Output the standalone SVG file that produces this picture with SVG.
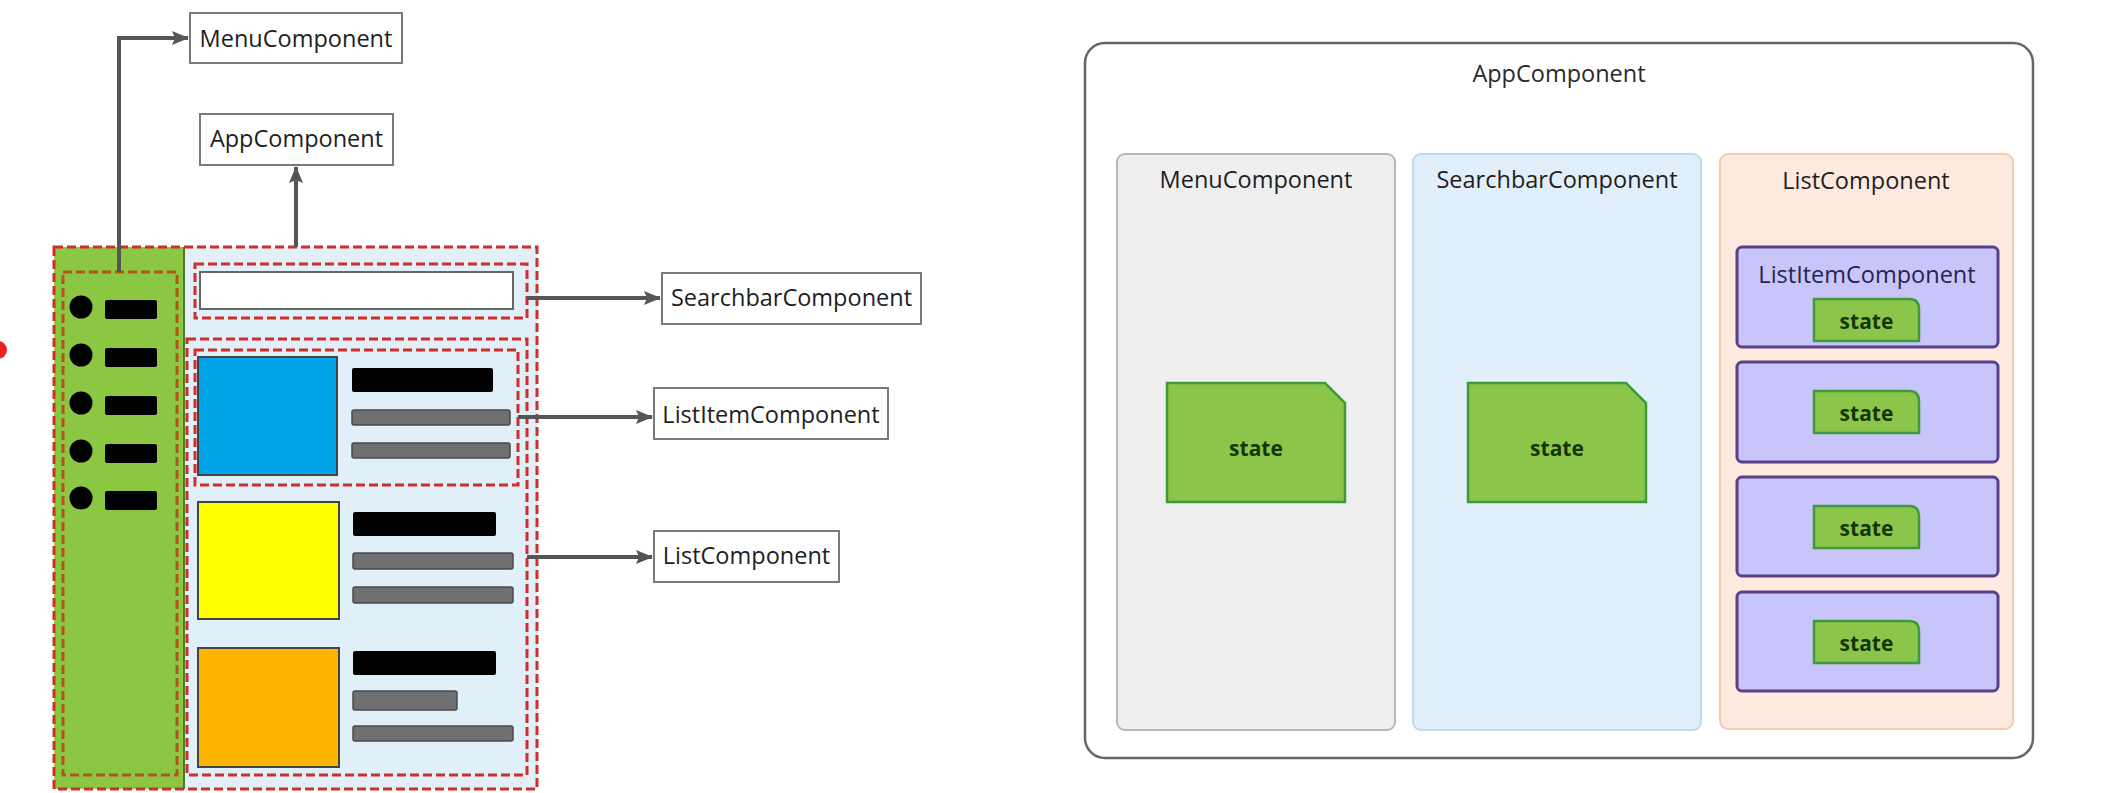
<svg xmlns="http://www.w3.org/2000/svg" width="2107" height="793" viewBox="0 0 2107 793">
<defs>
<marker id="arr" markerUnits="userSpaceOnUse" markerWidth="17" markerHeight="14" viewBox="0 0 17 14" refX="16" refY="7" orient="auto">
<path d="M0,0 L17,7 L0,14 L3,7 Z" fill="#555"/>
</marker>
<style>
text{font-family:"Open Sans","Liberation Sans",sans-serif;font-size:23.5px;fill:#1e1e1e;text-anchor:middle}
.lbl{fill:#fff;stroke:#7a7a7a;stroke-width:2}
.conn{fill:none;stroke:#555;stroke-width:4;marker-end:url(#arr)}
.rdash{fill:none;stroke:#cf2f2b;stroke-width:3;stroke-dasharray:9 4}
.bdash{fill:none;stroke:#b0561a;stroke-width:3;stroke-dasharray:9 4}
.blk{fill:#000}
.gry{fill:#707070;stroke:#4a4a4a;stroke-width:1.5}
.thumb{stroke:#444;stroke-width:2}
.st{fill:#8bc64a;stroke:#3f9a3c;stroke-width:2.5}
.stt{font-size:21px;font-weight:700;fill:#163608}
.item{fill:#c8c5fa;stroke:#5b3f88;stroke-width:3}
</style>
</defs>
<rect width="2107" height="793" fill="#fff"/>
<circle cx="-2" cy="350" r="9" fill="#e8231e"/>

<g id="mockup">
<rect x="54" y="247" width="483" height="542" fill="#e1eff9"/>
<rect x="54" y="247" width="130" height="542" fill="#8bc743"/>
<line x1="184" y1="247" x2="184" y2="789" stroke="#4d7a30" stroke-width="2"/>
<g id="menu-items">
<circle cx="81" cy="307" r="11.5"/><rect class="blk" x="105" y="300" width="52" height="19" rx="2"/>
<circle cx="81" cy="355" r="11.5"/><rect class="blk" x="105" y="348" width="52" height="19" rx="2"/>
<circle cx="81" cy="403" r="11.5"/><rect class="blk" x="105" y="396" width="52" height="19" rx="2"/>
<circle cx="81" cy="451" r="11.5"/><rect class="blk" x="105" y="444" width="52" height="19" rx="2"/>
<circle cx="81" cy="498" r="11.5"/><rect class="blk" x="105" y="491" width="52" height="19" rx="2"/>
</g>
<rect class="bdash" x="63" y="272" width="114" height="503"/>
<g id="searchbar-mock">
<rect x="200" y="272" width="313" height="37" fill="#fff" stroke="#666" stroke-width="2"/>
<rect class="rdash" x="195" y="264" width="332" height="54"/>
</g>
<g id="item1">
<rect class="thumb" x="198" y="357" width="139" height="118" fill="#00a3e6"/>
<rect class="blk" x="352" y="368" width="141" height="24" rx="2"/>
<rect class="gry" x="352" y="410" width="158" height="15" rx="2"/>
<rect class="gry" x="352" y="443" width="158" height="15" rx="2"/>
<rect class="rdash" x="195" y="350" width="323" height="135"/>
</g>
<g id="item2">
<rect class="thumb" x="198" y="502" width="141" height="117" fill="#ffff00"/>
<rect class="blk" x="353" y="512" width="143" height="24" rx="2"/>
<rect class="gry" x="353" y="553" width="160" height="16" rx="2"/>
<rect class="gry" x="353" y="587" width="160" height="16" rx="2"/>
</g>
<g id="item3">
<rect class="thumb" x="198" y="648" width="141" height="119" fill="#ffb400"/>
<rect class="blk" x="353" y="651" width="143" height="24" rx="2"/>
<rect class="gry" x="353" y="691" width="104" height="19" rx="2"/>
<rect class="gry" x="353" y="726" width="160" height="15" rx="2"/>
</g>
<rect class="rdash" x="187" y="339" width="340" height="436"/>
<rect class="rdash" x="54" y="247" width="483" height="542"/>
</g>

<g id="lbl-menu"><rect class="lbl" x="190" y="13" width="212" height="50"/><text x="296" y="47">MenuComponent</text></g>
<g id="lbl-app"><rect class="lbl" x="200" y="114" width="193" height="51"/><text x="296.5" y="147">AppComponent</text></g>
<g id="lbl-searchbar"><rect class="lbl" x="662" y="273" width="259" height="51"/><text x="791.5" y="306">SearchbarComponent</text></g>
<g id="lbl-listitem"><rect class="lbl" x="654" y="388" width="234" height="51"/><text x="771" y="423">ListItemComponent</text></g>
<g id="lbl-list"><rect class="lbl" x="654" y="531" width="185" height="51"/><text x="746.5" y="564">ListComponent</text></g>

<g id="connectors">
<path class="conn" d="M119,272 V38 H188"/>
<path class="conn" d="M296,247 V167"/>
<path class="conn" d="M527,298 H660"/>
<path class="conn" d="M518,417 H652"/>
<path class="conn" d="M527,557 H652"/>
</g>

<g id="app">
<rect x="1085" y="43" width="948" height="715" rx="20" fill="#fff" stroke="#666" stroke-width="2.5"/>
<text x="1559" y="82" style="fill:#2a2a2a">AppComponent</text>
</g>
<g id="menu">
<rect x="1117" y="154" width="278" height="576" rx="8" fill="#efefef" stroke="#b8b8b8" stroke-width="2"/>
<text x="1256" y="188">MenuComponent</text>
<path class="st" d="M1167,383 H1325 L1345,403 V502 H1167 Z"/>
<text class="stt" x="1256" y="456">state</text>
</g>
<g id="searchbar">
<rect x="1413" y="154" width="288" height="576" rx="8" fill="#e0eff9" stroke="#bfdaeb" stroke-width="2"/>
<text x="1557" y="188">SearchbarComponent</text>
<path class="st" d="M1468,383 H1626 L1646,403 V502 H1468 Z"/>
<text class="stt" x="1557" y="456">state</text>
</g>
<g id="list">
<rect x="1720" y="154" width="293" height="575" rx="8" fill="#fde9de" stroke="#f5c9b2" stroke-width="2"/>
<text x="1866" y="189">ListComponent</text>
</g>
<g id="listitem1">
<rect class="item" x="1737" y="247" width="261" height="100" rx="5"/>
<text x="1867" y="283" style="fill:#262650">ListItemComponent</text>
<path class="st" d="M1814,299 H1909 Q1919,299 1919,309 V341 H1814 Z"/>
<text class="stt" x="1866.5" y="329">state</text>
</g>
<g id="listitem2">
<rect class="item" x="1737" y="362" width="261" height="100" rx="5"/>
<path class="st" d="M1814,391 H1909 Q1919,391 1919,401 V433 H1814 Z"/>
<text class="stt" x="1866.5" y="421">state</text>
</g>
<g id="listitem3">
<rect class="item" x="1737" y="477" width="261" height="99" rx="5"/>
<path class="st" d="M1814,506 H1909 Q1919,506 1919,516 V548 H1814 Z"/>
<text class="stt" x="1866.5" y="536">state</text>
</g>
<g id="listitem4">
<rect class="item" x="1737" y="592" width="261" height="99" rx="5"/>
<path class="st" d="M1814,621 H1909 Q1919,621 1919,631 V663 H1814 Z"/>
<text class="stt" x="1866.5" y="651">state</text>
</g>
</svg>
